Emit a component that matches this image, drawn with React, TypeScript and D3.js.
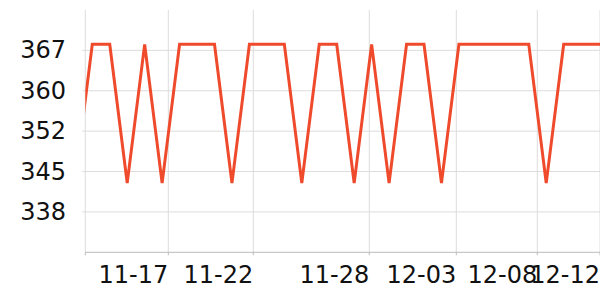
import React from "react";
import * as d3 from "d3";

const HIGH = 368.1;
const LOW = 342.9;
const values: number[] = [
  LOW, HIGH, HIGH, LOW, HIGH, LOW, HIGH, HIGH, HIGH, LOW, HIGH, HIGH, HIGH, LOW,
  HIGH, HIGH, LOW, HIGH, LOW, HIGH, HIGH, LOW, HIGH, HIGH, HIGH, HIGH, HIGH, LOW,
  HIGH, HIGH, HIGH, HIGH,
];
const xTickPositions: number[] = [5.354, 10.222, 16.866, 21.849, 26.488, 30.08];
const xTickLabels: string[] = ["11-17", "11-22", "11-28", "12-03", "12-08", "12-12"];
const yTickValues: number[] = [337.667, 345, 352.333, 359.667, 367];
const yTickLabels: string[] = ["338", "345", "352", "360", "367"];
const xDomain: [number, number] = [0.6, 30.08];
const yDomain: [number, number] = [330.333, 374.333];

export default function App() {
  const W = 600,
    H = 300;
  const left = 85.3,
    right = 600,
    top = 10,
    bottom = 252.3;
  const x = d3.scaleLinear().domain(xDomain).range([left, right]);
  const y = d3.scaleLinear().domain(yDomain).range([bottom, top]);
  const line = d3
    .line<number>()
    .x((_, i) => x(i))
    .y((d) => y(d));
  const font = "DejaVu Sans, sans-serif";
  return (
    <svg
      width={W}
      height={H}
      style={{ position: "absolute", left: 0, top: 0, background: "#fff" }}
    >
      <defs>
        <clipPath id="plot">
          <rect x={left} y={0} width={right - left} height={bottom} />
        </clipPath>
      </defs>
      {yTickValues.map((v, i) => (
        <line
          key={"hy" + i}
          x1={left - 3}
          x2={right}
          y1={y(v)}
          y2={y(v)}
          stroke="#dcdcdc"
          strokeWidth={1}
        />
      ))}
      <line x1={left} x2={left} y1={top} y2={bottom} stroke="#dcdcdc" strokeWidth={1} />
      {xTickPositions.map((p, i) => (
        <line
          key={"vx" + i}
          x1={x(p)}
          x2={x(p)}
          y1={top}
          y2={bottom}
          stroke="#dcdcdc"
          strokeWidth={1}
        />
      ))}
      <line x1={left} x2={right} y1={bottom} y2={bottom} stroke="#bbbbbb" strokeWidth={1} />
      <line x1={left} x2={left} y1={bottom} y2={bottom + 3} stroke="#bbbbbb" strokeWidth={1} />
      {xTickPositions.map((p, i) => (
        <line
          key={"tx" + i}
          x1={x(p)}
          x2={x(p)}
          y1={bottom}
          y2={bottom + 3}
          stroke="#bbbbbb"
          strokeWidth={1}
        />
      ))}
      <path
        d={line(values) || ""}
        fill="none"
        stroke="#ef4a2c"
        strokeWidth={3}
        strokeLinejoin="miter"
        clipPath="url(#plot)"
      />
      {yTickValues.map((v, i) => (
        <text
          key={"ly" + i}
          x={66}
          y={y(v)}
          textAnchor="end"
          dominantBaseline="central"
          fontFamily={font}
          fontSize={24}
          fill="#111"
        >
          {yTickLabels[i]}
        </text>
      ))}
      {xTickPositions.map((p, i) => (
        <text
          key={"lx" + i}
          x={x(p)}
          y={283.3}
          textAnchor="end"
          fontFamily={font}
          fontSize={24}
          fill="#111"
        >
          {xTickLabels[i]}
        </text>
      ))}
    </svg>
  );
}
